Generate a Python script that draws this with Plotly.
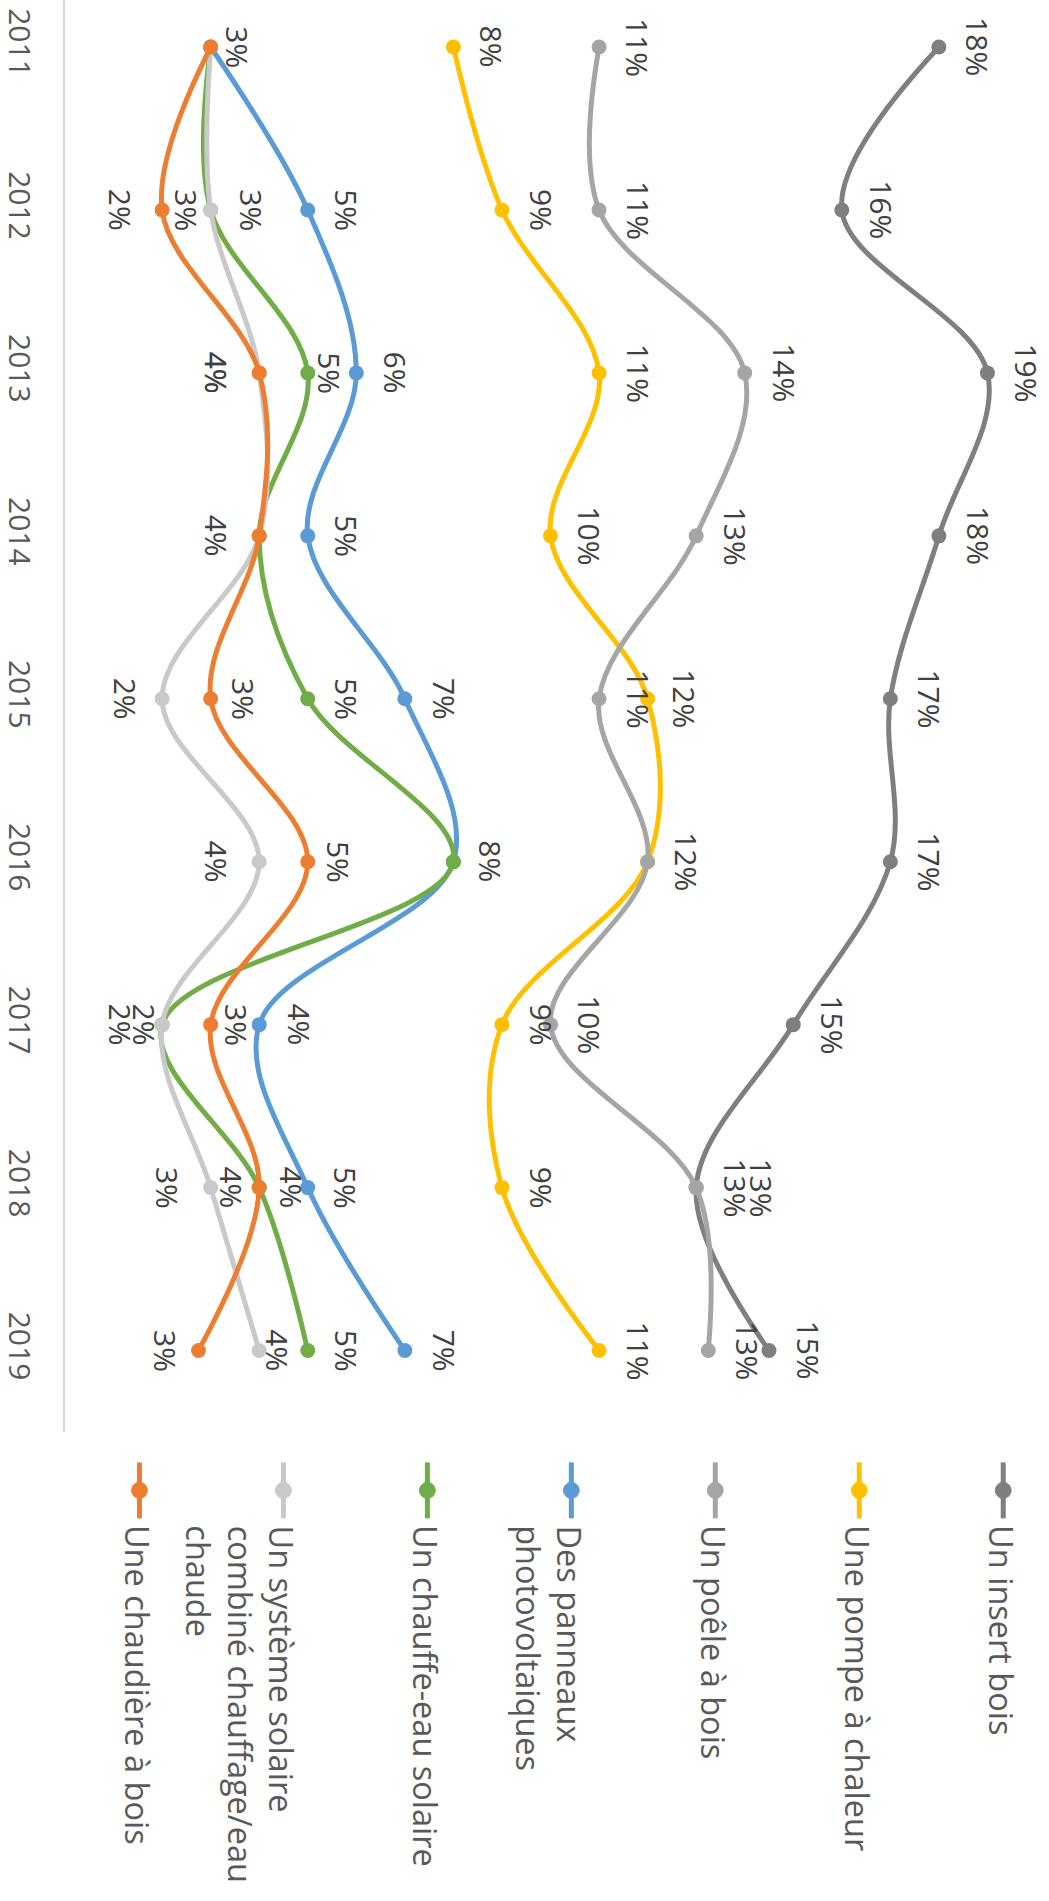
import plotly.graph_objects as go

# ---------------- data ----------------
years = [2011, 2012, 2013, 2014, 2015, 2016, 2017, 2018, 2019]
year_labels = ["2011", "2012", "2013", "2014", "2015", "2016", "2017", "2018", "2019"]

insert_bois = [18, 16, 19, 18, 17, 17, 15, 13, 14.5]
pompe_chaleur = [8, 9, 11, 10, 12, 12, 9, 9, 11]
poele_bois = [11, 11, 14, 13, 11, 12, 10, 13, 13.25]
panneaux_pv = [3, 5, 6, 5, 7, 8, 4, 5, 7]
chauffe_eau = [3, 3, 5, 4, 5, 8, 2, 4, 5]
systeme_solaire = [3, 3, 4, 4, 2, 4, 2, 3, 4]
chaudiere_bois = [3, 2, 4, 4, 3, 5, 3, 4, 2.75]

series_names = [
    ["Un insert bois"],
    ["Une pompe à chaleur"],
    ["Un poêle à bois"],
    ["Des panneaux", "photovoltaiques"],
    ["Un chauffe-eau solaire"],
    ["Un système solaire", "combiné chauffage/eau", "chaude"],
    ["Une chaudière à bois"],
]
series_values = [insert_bois, pompe_chaleur, poele_bois, panneaux_pv,
                 chauffe_eau, systeme_solaire, chaudiere_bois]
series_colors = ["#7f7f7f", "#ffc000", "#a5a5a5", "#5b9bd5",
                 "#70ad47", "#c9c9c9", "#ed7d31"]

# data-label offsets in pixels (+ = right of the point, - = left, None = label hidden
# because it sits exactly under another one)
label_offsets = [
    [39, 39, 39, 39, 39, 39, 39, 65, 39],
    [39, 39, 39, 39, 37, None, 39, 39, 39],
    [39, 39, 39, 39, 39, 39, 39, 39, 39],
    [27, 38, 39, 38, 39, 37, 40, 38, 40],
    [None, 40, 21, None, 38, None, -18, 32, 39],
    [None, -25, -43, None, -37, -43, -42, -43, 18],
    [None, -42, -43, -43, 33, 31, 26, -28, -33],
]

# ---------------- layout geometry ----------------
W, H = 1049, 1901
ml, mt = 58, 0
x_max = 20
px_per_pct = 48.9
pw = x_max * px_per_pct
mr = W - ml - pw
year_step = 162.9
first_year_px = 47
ph = first_year_px + (len(years) - 0.5) * year_step
mb = H - mt - ph
y_top = years[0] - first_year_px / year_step
y_bot = years[-1] + 0.5

FONT = "Open Sans"
LBL = 30
LEG = 32.5

def px_x(px):
    return (px - ml) / pw

def px_y(py):
    return 1 - (py - mt) / ph

fig = go.Figure()

for name, vals, col in zip(series_names, series_values, series_colors):
    fig.add_trace(go.Scatter(
        x=vals, y=years, mode="lines+markers",
        name=" ".join(name),
        line=dict(color=col, width=5, shape="spline", smoothing=1),
        marker=dict(color=col, size=15),
        showlegend=False, hoverinfo="skip",
    ))

annotations = []
for vals, offs in zip(series_values, label_offsets):
    for yv, v, o in zip(years, vals, offs):
        if o is None:
            continue
        annotations.append(dict(
            x=v, y=yv, xref="x", yref="y", xshift=o,
            text=f"{int(v + 0.5)}%", showarrow=False, textangle=90,
            xanchor="center", yanchor="middle",
            font=dict(family=FONT, size=LBL, color="#404040"),
        ))

# legend (rotated like the rest of the chart)
shapes = []
leg_x0, leg_dx = 1003, 145
line_top, line_bot, mark_y, text_top, line_gap = 1462, 1518, 1490, 1523, 41.5
r = 8
for i, (name, col) in enumerate(zip(series_names, series_colors)):
    lx = leg_x0 - i * leg_dx
    shapes.append(dict(type="line", xref="paper", yref="paper",
                       x0=px_x(lx), x1=px_x(lx), y0=px_y(line_top), y1=px_y(line_bot),
                       line=dict(color=col, width=5)))
    shapes.append(dict(type="circle", xref="paper", yref="paper",
                       x0=px_x(lx - r), x1=px_x(lx + r),
                       y0=px_y(mark_y - r), y1=px_y(mark_y + r),
                       fillcolor=col, line=dict(color=col, width=1)))
    for k, part in enumerate(name):
        annotations.append(dict(
            x=px_x(lx - 2 - k * line_gap), y=px_y(text_top), xref="paper", yref="paper",
            text=part, showarrow=False, textangle=90,
            xanchor="center", yanchor="top",
            font=dict(family=FONT, size=LEG, color="#595959"),
        ))

fig.update_layout(
    width=W, height=H,
    margin=dict(l=ml, r=mr, t=mt, b=mb),
    paper_bgcolor="white", plot_bgcolor="white",
    annotations=annotations, shapes=shapes,
    hovermode=False,
    xaxis=dict(range=[0, x_max], visible=False),
    yaxis=dict(
        range=[y_bot, y_top],
        tickvals=years, ticktext=year_labels, tickangle=90,
        showline=True, linecolor="#d9d9d9", linewidth=2,
        showgrid=False, zeroline=False, ticks="",
        ticklabelstandoff=18,
        tickfont=dict(family=FONT, size=LBL, color="#595959"),
    ),
)

fig.write_html("out.html",
               config={"displayModeBar": False, "staticPlot": True},
               post_script="document.body.style.margin='0';document.body.style.overflow='hidden';")
